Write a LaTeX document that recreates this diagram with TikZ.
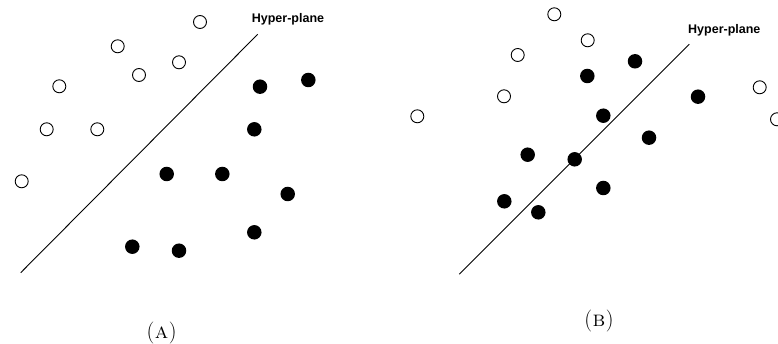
\documentclass[tikz,border=0pt]{standalone}
\usepackage{fontspec}
\newfontfamily\labelfont{Liberation Sans}
\begin{document}
\begin{tikzpicture}[x=1pt,y=-1pt,
  open/.style={circle,draw=black,line width=0.9pt,fill=white,minimum size=13pt,inner sep=0pt},
  full/.style={circle,fill=black,minimum size=14.5pt,inner sep=0pt},
  plane/.style={draw=black,line width=0.9pt},
  hlabel/.style={font=\labelfont\bfseries\fontsize{12.5}{14}\selectfont,inner sep=0pt},
  captext/.style={font=\fontsize{22}{26}\selectfont,inner sep=0pt}]
\useasboundingbox (0,0) rectangle (778,344);
% Panel A
\coordinate (a1) at (20.7,272.7);
\coordinate (a2) at (257.7,34.3);
\draw[plane] (a1) -- (a2);
\node[hlabel] (ha) at (288,19) {Hyper-plane};
\node[open] (ao1) at (200,22) {};
\node[open] (ao2) at (117.7,46.3) {};
\node[open] (ao3) at (179,62.3) {};
\node[open] (ao4) at (139,75) {};
\node[open] (ao5) at (59.3,86.3) {};
\node[open] (ao6) at (46.7,129.3) {};
\node[open] (ao7) at (97.3,129.3) {};
\node[open] (ao8) at (21.7,181.3) {};
\node[full] (af1) at (260,86.7) {};
\node[full] (af2) at (308.3,80) {};
\node[full] (af3) at (254.3,129.3) {};
\node[full] (af4) at (166.7,174) {};
\node[full] (af5) at (222.3,174) {};
\node[full] (af6) at (287.7,194) {};
\node[full] (af7) at (254.3,232.3) {};
\node[full] (af8) at (132.3,246.7) {};
\node[full] (af9) at (179,250.7) {};
\node[captext] (capA) at (161.7,333.5) {(\kern0.5pt\textsc{a}\kern0.5pt)};
% Panel B
\coordinate (b1) at (459.3,274.3);
\coordinate (b2) at (689.3,44.3);
\draw[plane] (b1) -- (b2);
\node[hlabel] (hb) at (724.3,30.5) {Hyper-plane};
\node[open] (bo1) at (554.3,14.3) {};
\node[open] (bo2) at (587.7,40.3) {};
\node[open] (bo3) at (517.7,55) {};
\node[open] (bo4) at (504,96.3) {};
\node[open] (bo5) at (417.3,116.3) {};
\node[open] (bo6) at (759.7,87.3) {};
\node[open] (bo7) at (777,119.3) {};
\node[full] (bf1) at (635,61.3) {};
\node[full] (bf2) at (587.3,76) {};
\node[full] (bf3) at (698,96.7) {};
\node[full] (bf4) at (603.3,115.7) {};
\node[full] (bf5) at (649,137.7) {};
\node[full] (bf6) at (527.7,154.7) {};
\node[full] (bf7) at (574.7,159.3) {};
\node[full] (bf8) at (603.3,188) {};
\node[full] (bf9) at (504.3,201.3) {};
\node[full] (bf10) at (538.3,212.3) {};
\node[captext] (capB) at (599,321.3) {(\kern0.5pt\textsc{b}\kern0.5pt)};
\end{tikzpicture}
\end{document}
